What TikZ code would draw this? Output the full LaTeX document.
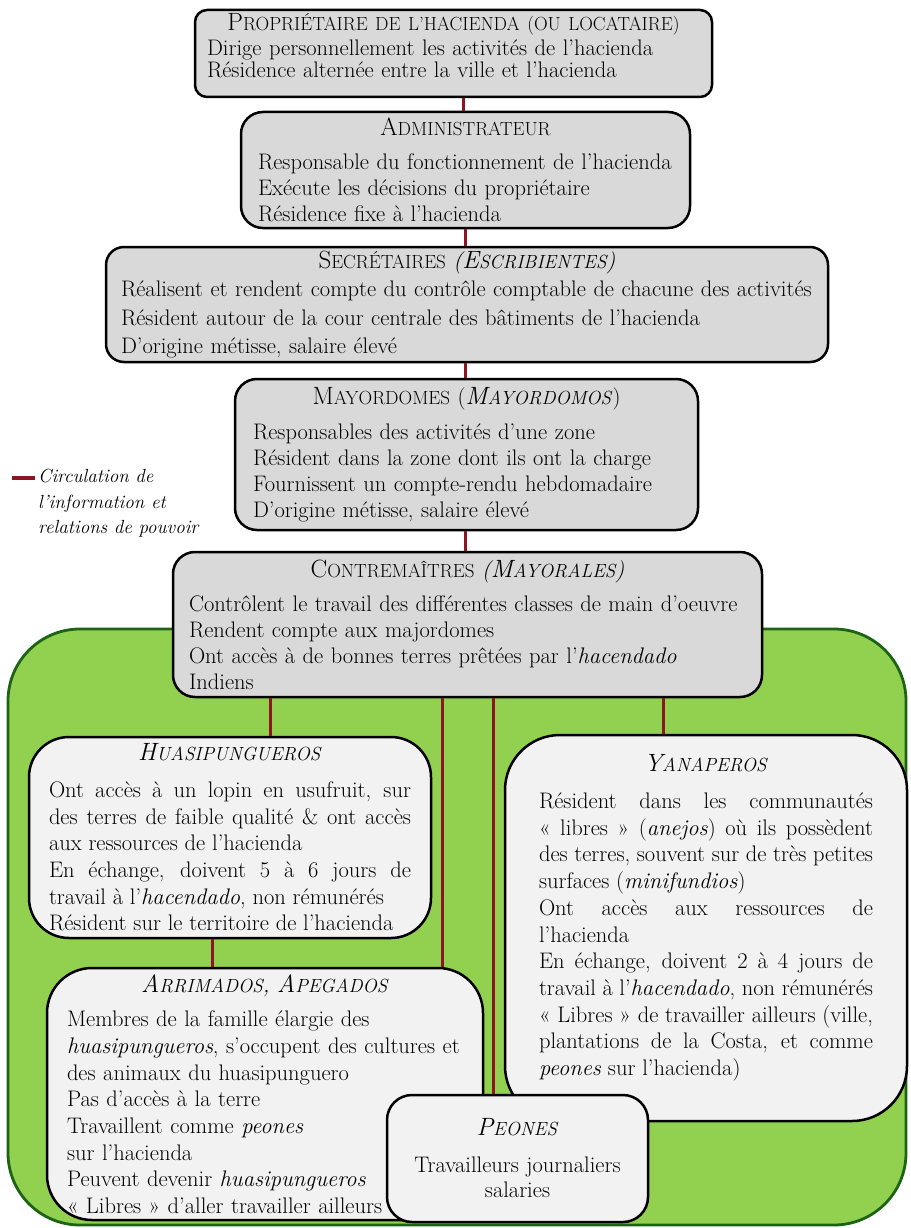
\documentclass[tikz,border=0pt]{standalone}
\usetikzlibrary{positioning}

\definecolor{boxgray}{RGB}{217,217,217}
\definecolor{boxlight}{RGB}{242,242,242}
\definecolor{zonegreen}{RGB}{146,208,80}
\definecolor{zoneedge}{RGB}{28,100,20}
\definecolor{linkred}{RGB}{140,20,35}

% petites capitales "a la main"
\newcommand{\fsc}[2]{{\fontsize{25}{26}\selectfont #1}{\fontsize{19}{20}\selectfont #2}}
% blanc sous le texte d'une boite
\newcommand{\basgap}[1]{\par\nointerlineskip\vbox to #1{}}

\begin{document}
\begin{tikzpicture}[x=1pt, y=-1pt,
    every node/.style={font=\fontsize{22.5}{26}\selectfont},
    topbox/.style={draw=black, line width=2.5pt, fill=boxgray, rounded corners=22pt, align=left, inner ysep=3pt},
    lowbox/.style={draw=black, line width=2.5pt, fill=boxlight, rounded corners=40pt, inner ysep=3pt,
        font=\fontsize{22.5}{26.7}\selectfont},
    link/.style={draw=linkred, line width=3pt}]
    \useasboundingbox (0,0) rectangle (910,1228);

    % Zone des travailleurs
    \draw[draw=zoneedge, fill=zonegreen, line width=2.8pt, rounded corners=72pt] (8,629) rectangle (906,1225);

    % Hierarchie
    \node[topbox, text width=493pt, inner xsep=12pt, minimum height=87pt, rounded corners=12pt,
        font=\fontsize{22.5}{22.5}\selectfont] (prop) at (453.5,53.5)
        {{\centering\fsc{P}{ROPRIÉTAIRE DE L’HACIENDA (OU LOCATAIRE)}\par}\vspace{2pt}
         Dirige personnellement les activités de l’hacienda\\
         Résidence alternée entre la ville et l’hacienda\basgap{15pt}};
    \node[topbox, text width=415pt, inner xsep=17pt, minimum height=116pt] (admin) at (465.5,170)
        {{\centering\fsc{A}{DMINISTRATEUR}\par}\vspace{8pt}
         Responsable du fonctionnement de l’hacienda\\
         Exécute les décisions du propriétaire\\
         Résidence fixe à l’hacienda};
    \node[topbox, text width=692pt, inner xsep=15pt, minimum height=115pt, rounded corners=18pt,
        font=\fontsize{22.5}{28.5}\selectfont] (secr) at (467,304.5)
        {{\centering\fsc{S}{ECRÉTAIRES} \textit{(\fsc{E}{SCRIBIENTES})}\par}\vspace{0pt}
         Réalisent et rendent compte du contrôle comptable de chacune des activités\\
         Résident autour de la cour centrale des bâtiments de l’hacienda\\
         D’origine métisse, salaire élevé};
    \node[topbox, text width=427pt, inner xsep=18pt, minimum height=151pt] (mayor) at (466.5,454.5)
        {{\centering\fsc{M}{AYORDOMES} (\textit{\fsc{M}{AYORDOMOS}})\par}\vspace{9pt}
         Responsables des activités d’une zone\\
         Résident dans la zone dont ils ont la charge\\
         Fournissent un compte-rendu hebdomadaire\\
         D’origine métisse, salaire élevé};
    \node[topbox, text width=557pt, inner xsep=16pt, minimum height=145pt] (contre) at (467.5,624.5)
        {{\centering\fsc{C}{ONTREMAÎTRES} \textit{(\fsc{M}{AYORALES})}\par}\vspace{8pt}
         Contrôlent le travail des différentes classes de main d’oeuvre\\
         Rendent compte aux majordomes\\
         Ont accès à de bonnes terres prêtées par l’\textit{hacendado}\\
         Indiens};

    % Travailleurs
    \node[lowbox, text width=362pt, inner xsep=20pt, minimum height=201pt, align=justify] (huasi) at (230,837.5)
        {{\centering\textit{\fsc{H}{UASIPUNGUEROS}}\par}\vspace{10pt}
         Ont accès à un lopin en usufruit, sur\linebreak
         des terres de faible qualité \& ont accès\linebreak
         aux ressources de l’hacienda\par
         En échange, doivent 5 à 6 jours de\linebreak
         travail à l’\textit{hacendado}, non rémunérés\par
         Résident sur le territoire de l’hacienda};
    \node[lowbox, text width=334pt, inner xsep=34pt, minimum height=386pt, rounded corners=55pt, align=justify] (yana) at (706,928)
        {{\centering\textit{\fsc{Y}{ANAPEROS}}\par}\vspace{10pt}
         Résident dans les communautés\linebreak
         « libres » (\textit{anejos}) où ils possèdent\linebreak
         des terres, souvent sur de très petites\linebreak
         surfaces (\textit{minifundios})\par
         Ont accès aux ressources de\linebreak
         l’hacienda\par
         En échange, doivent 2 à 4 jours de\linebreak
         travail à l’\textit{hacendado}, non rémunérés\par
         « Libres » de travailler ailleurs (ville,\linebreak
         plantations de la Costa, et comme\linebreak
         \textit{peones} sur l’hacienda)\basgap{20pt}};
    \node[lowbox, text width=396pt, inner xsep=20pt, minimum height=252pt, rounded corners=45pt, align=left] (arri) at (265,1094)
        {{\centering\textit{\fsc{A}{RRIMADOS}, \fsc{A}{PEGADOS}}\par}\vspace{8pt}
         Membres de la famille élargie des\\
         \textit{huasipungueros}, s’occupent des cultures et\\
         des animaux du huasipunguero\\
         Pas d’accès à la terre\\
         Travaillent comme \textit{peones}\\
         sur l’hacienda\\
         Peuvent devenir \textit{huasipungueros}\\
         « Libres » d’aller travailler ailleurs};
    \node[lowbox, text width=231pt, inner xsep=15pt, minimum height=127pt, rounded corners=25pt, align=center,
        font=\fontsize{22.5}{25}\selectfont] (peon) at (517.5,1158.5)
        {\textit{\fsc{P}{EONES}}\\[12pt]
         Travailleurs journaliers\\
         salaries};

    % Liens
    \coordinate (kprop) at (463,0);
    \coordinate (kmay) at (465,0);
    \coordinate (khuasi) at (270,0);
    \coordinate (karri) at (442,0);
    \coordinate (kpeon) at (493,0);
    \coordinate (kyana) at (663,0);
    \coordinate (kbas) at (212,0);
    \draw[link] (prop.south -| kprop) -- (admin.north -| kprop);
    \draw[link] (admin.south -| kmay) -- (secr.north -| kmay);
    \draw[link] (secr.south -| kmay) -- (mayor.north -| kmay);
    \draw[link] (mayor.south -| kmay) -- (contre.north -| kmay);
    \draw[link] (contre.south -| khuasi) -- (huasi.north -| khuasi);
    \draw[link] (contre.south -| karri) -- (arri.north -| karri);
    \draw[link] (contre.south -| kpeon) -- (peon.north -| kpeon);
    \draw[link] (contre.south -| kyana) -- (yana.north -| kyana);
    \draw[link] (huasi.south -| kbas) -- (arri.north -| kbas);

    % Legende
    \node[font=\fontsize{19}{25.5}\selectfont\itshape, align=left, anchor=west, inner sep=0pt] (legende) at (38,503.5)
        {Circulation de\\l’information et\\relations de pouvoir};
    \coordinate (legmark) at (12,478);
    \draw[link, line width=3.5pt] (legmark) -- ++(23,0);
\end{tikzpicture}
\end{document}
